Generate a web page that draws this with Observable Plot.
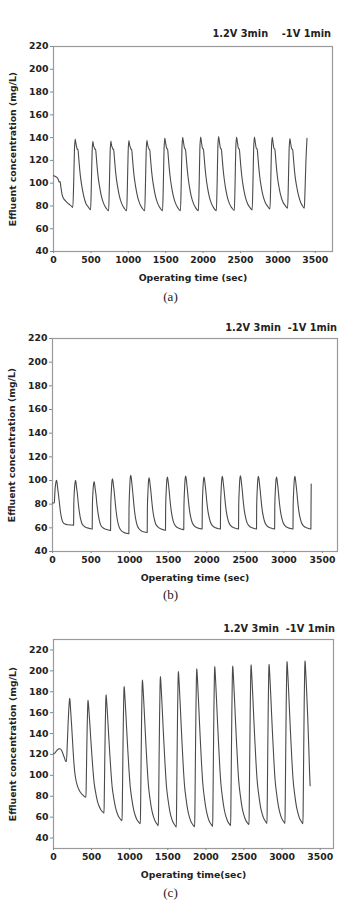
<!DOCTYPE html>
<html><head><meta charset="utf-8">
<script src="https://cdn.jsdelivr.net/npm/d3@7"></script>
<script src="https://cdn.jsdelivr.net/npm/@observablehq/plot@0.6"></script>
<style>
body{margin:0;background:#fff;}
#page{position:relative;width:341px;height:902px;overflow:hidden;font-family:"DejaVu Sans",sans-serif;background:#fff;}
.title{position:absolute;font-weight:bold;font-size:9.8px;line-height:11px;color:#222;white-space:pre;}
.cap{position:absolute;left:0;width:341px;text-align:center;font-family:"Liberation Serif",serif;font-size:13px;line-height:14px;color:#222;}
.panel{position:absolute;left:0;}
</style></head><body><div id="page"></div>
<script>
const yTicks = [40, 60, 80, 100, 120, 140, 160, 180, 200, 220];
const xTicks = [0, 500, 1000, 1500, 2000, 2500, 3000, 3500];
const yLabel = "Effluent concentration (mg/L)";
const titles = ["1.2V 3min    -1V 1min", "1.2V 3min  -1V 1min", "1.2V 3min  -1V 1min"];
const xLabels = ["Operating time (sec)", "Operating time (sec)", "Operating time(sec)"];
const captions = ["(a)", "(b)", "(c)"];

// panel (a): [time s, concentration mg/L]
const seriesA = [
[0,106.5],[20,106],[45,105],[65,103],[76,101],[88,101.5],[100,96],[115,90],[135,86.5],[160,84.5],[190,82.5],[220,81],[245,79.5],[258,78.6],[270,101],[280,129],
[290,138.8],[300,134.8],[312,131],[320,129.6],[327,129.8],[334,125],[345,116],[360,106],[380,97],[405,88.5],[435,82],[465,79.1],[496,76.6],[506,98.6],[516,126.8],
[526,136.8],[536,132.8],[548,131],[556,129.6],[563,129.8],[570,125],[581,116],[596,106],[616,97],[641,88.5],[671,82],[701,78.3],[737,75.8],[747,97.8],[757,127],
[767,137],[777,133],[789,131],[797,129.6],[804,129.8],[811,125],[822,116],[837,106],[857,97],[882,88.5],[912,82],[942,78.3],[978,75.8],[988,97.8],[998,127.4],
[1008,137.4],[1018,133.4],[1030,131],[1038,129.6],[1045,129.8],[1052,125],[1063,116],[1078,106],[1098,97],[1123,88.5],[1153,82],[1183,78.3],[1219,75.8],[1229,97.8],[1239,127.7],
[1249,137.7],[1259,133.7],[1271,131],[1279,129.6],[1286,129.8],[1293,125],[1304,116],[1319,106],[1339,97],[1364,88.5],[1394,82],[1424,78.3],[1458,75.8],[1468,97.8],[1478,129.7],
[1488,139.7],[1498,135.7],[1510,131.5],[1518,130],[1525,130.2],[1532,125.5],[1543,116.5],[1558,106.5],[1578,97],[1603,88.5],[1633,82],[1663,78.3],[1697,75.8],[1707,97.8],[1717,130.3],
[1727,140.3],[1737,136.3],[1749,131.5],[1757,130],[1764,130.2],[1771,125.5],[1782,116.5],[1797,106.5],[1817,97],[1842,88.5],[1872,82],[1902,78.3],[1937,75.8],[1947,97.8],[1957,130.6],
[1967,140.6],[1977,136.6],[1989,131.5],[1997,130],[2004,130.2],[2011,125.5],[2022,116.5],[2037,106.5],[2057,97],[2082,88.5],[2112,82],[2142,78.3],[2177,75.8],[2187,97.8],[2197,130.9],
[2207,140.9],[2217,136.9],[2229,131.5],[2237,130],[2244,130.2],[2251,125.5],[2262,116.5],[2277,106.5],[2297,97],[2322,88.5],[2352,82],[2382,78.5],[2417,76],[2427,98],[2437,130.6],
[2447,140.6],[2457,136.6],[2469,131.5],[2477,130],[2484,130.2],[2491,125.5],[2502,116.5],[2517,106.5],[2537,97],[2562,88.7],[2592,82.3],[2622,79],[2656,76.5],[2666,98.5],[2676,130.6],
[2686,140.6],[2696,136.6],[2708,131.5],[2716,130],[2723,130.2],[2730,125.5],[2741,116.5],[2756,106.5],[2776,97.2],[2801,89],[2831,83],[2861,79.8],[2894,77.3],[2904,99.3],[2914,130.3],
[2924,140.3],[2934,136.3],[2944,131.5],[2952,130],[2959,130.2],[2966,125.5],[2977,116.5],[2992,106.5],[3012,97.5],[3037,89.5],[3067,83.5],[3097,80.5],[3130,78],[3140,100],[3150,129.2],
[3160,139.2],[3170,135.2],[3182,131],[3190,129.6],[3197,129.8],[3204,125],[3215,116],[3230,106],[3250,97.5],[3275,89.5],[3305,83],[3330,80],[3353,78],[3362,92],[3374,118],[3389,139.5]
];

// panel (b)
const seriesB = [
[0,81],[24,81.2],[27,85],[34,93],[44,98.5],[52,100.1],[58,98.6],[66,94],[76,89],[88,82],[102,74],[118,68],[137,64.5],[162,63.2],[200,62.6],[240,62.4],[274,62.3],
[276,79],[284,92],[292,98.1],[298,100.1],
[304,98.6],[312,94],[322,89],[334,81],[348,73.5],[364,67.5],[383,63.5],[408,61.5],[448,60],[488,59.3],[515,59],
[517,78],[525,91],[533,97.2],[539,99.2],
[545,97.7],[553,93.2],[563,88.5],[575,80.5],[589,73],[605,67],[624,62.5],[649,60.3],[689,58.8],[729,58.1],[753,57.8],
[755,77],[763,91],[771,99.5],[777,101.5],
[783,100],[791,95.5],[801,90],[813,81.5],[827,73],[843,66],[862,61],[887,58],[927,56],[967,55.3],[990,55],
[992,76],[1000,92],[1008,102.3],[1014,104.3],
[1020,102.8],[1028,98.3],[1038,92],[1050,83],[1064,74],[1080,67],[1099,62],[1124,59],[1164,57],[1204,56.3],[1228,56],
[1230,76],[1238,91],[1246,100.3],[1252,102.3],
[1258,100.8],[1266,96.3],[1276,90.5],[1288,82],[1302,74],[1318,68],[1337,63.5],[1362,61],[1402,59.2],[1442,58.3],[1465,58],
[1467,77],[1475,92],[1483,100.9],[1489,102.9],
[1495,101.4],[1503,96.9],[1513,91],[1525,82.5],[1539,74.5],[1555,68.5],[1574,64],[1599,61.3],[1639,59.6],[1679,58.8],[1702,58.5],
[1704,77.5],[1712,92.5],[1720,101.7],[1726,103.7],
[1732,102.2],[1740,97.7],[1750,91.5],[1762,83],[1776,75],[1792,69],[1811,64.5],[1836,61.8],[1876,60],[1916,59.3],[1940,59],
[1942,78],[1950,92.5],[1958,100.9],[1964,102.9],
[1970,101.4],[1978,96.9],[1988,91],[2000,82.5],[2014,74.8],[2030,69],[2049,64.5],[2074,61.8],[2114,60],[2154,59.3],[2177,59],
[2179,78],[2187,92.5],[2195,101.5],[2201,103.5],
[2207,102],[2215,97.5],[2225,91.5],[2237,83],[2251,75],[2267,69],[2286,64.5],[2311,61.8],[2351,60],[2391,59.3],[2412,59],
[2414,78],[2422,93],[2430,102],[2436,104],
[2442,102.5],[2450,98],[2460,91.8],[2472,83.2],[2486,75.2],[2502,69.2],[2521,64.6],[2546,61.8],[2586,60],[2626,59.3],[2645,59],
[2647,78],[2655,92.8],[2663,101.5],[2669,103.5],
[2675,102],[2683,97.5],[2693,91.5],[2705,83],[2719,75],[2735,69],[2754,64.5],[2779,61.8],[2819,60],[2859,59.3],[2880,59],
[2882,78],[2890,92.5],[2898,100.9],[2904,102.9],
[2910,101.4],[2918,96.9],[2928,91],[2940,82.5],[2954,74.8],[2970,69],[2989,64.5],[3014,61.8],[3054,60],[3094,59.3],[3118,59],
[3120,78],[3128,92.5],[3136,101.5],[3142,103.5],
[3148,102],[3156,97.5],[3166,91.5],[3178,83],[3192,75],[3208,69],[3227,64.5],[3252,61.8],[3292,60],[3330,59.3],[3350,59],
[3352,78],[3354,97]
];

// panel (c)
const seriesC = [
[0,120.6],[20,121.5],[45,124],[70,125.3],[87,125.4],[105,124],[125,120.5],[145,116.5],[160,113.5],[170,113.2],[180,128],[192,150],[204,167],[210,172.5],[214,173.8],
[218,170.5],[226,161],[236,150],[249,134],[262,118],[276,105],[293,96],[314,90],[336,86],[358,83.3],[380,81.5],[405,79.8],[426,79.2],
[430,93],[436,121],[442,146],[448,164],[452,171],[454,171.8],
[459,168],[466,161],[476,150.2],[489,135.1],[502,121.1],[516,107.1],[533,93],[554,83.3],[577,75.2],[599,70.4],[621,67.1],[644,65.2],[663,63.9],
[667,80.9],[673,114.8],[679,145.3],[685,168],[689,175.9],[691,177],
[696,172.8],[703,164.9],[713,152.9],[726,136],[739,120.4],[753,104.7],[770,89],[791,78.2],[814,69.2],[836,63.7],[858,60.1],[881,57.9],[900,56.5],
[904,75.8],[910,114.3],[916,149],[922,174.7],[926,183.7],[928,185],
[933,180.4],[940,171.9],[950,158.7],[963,140.4],[976,123.3],[990,106.2],[1007,89.2],[1028,77.3],[1051,67.5],[1073,61.6],[1095,57.6],[1118,55.3],[1140,53.7],
[1144,74.3],[1150,115.6],[1156,152.8],[1162,180.3],[1166,189.9],[1168,191.3],
[1173,186.4],[1180,177.3],[1190,163.4],[1203,143.9],[1216,125.7],[1230,107.6],[1247,89.5],[1268,76.9],[1291,66.4],[1313,60.2],[1335,56],[1358,53.5],[1376,51.8],
[1380,73.2],[1386,116],[1392,154.5],[1398,183.1],[1402,193.1],[1404,194.5],
[1409,189.5],[1416,180.1],[1426,165.7],[1439,145.5],[1452,126.8],[1466,108.1],[1483,89.4],[1504,76.4],[1527,65.6],[1549,59.1],[1571,54.8],[1594,52.2],[1612,50.5],
[1616,72.8],[1622,117.5],[1628,157.6],[1634,187.4],[1638,197.8],[1640,199.3],
[1645,194.1],[1652,184.4],[1662,169.6],[1675,148.8],[1688,129.5],[1702,110.2],[1719,90.9],[1740,77.5],[1763,66.4],[1785,59.7],[1807,55.3],[1830,52.6],[1853,50.8],
[1857,73.5],[1863,118.8],[1869,159.6],[1875,189.8],[1879,200.4],[1881,201.9],
[1886,196.6],[1893,186.8],[1903,171.7],[1916,150.6],[1929,131],[1943,111.4],[1960,91.8],[1981,78.2],[2004,66.9],[2026,60.1],[2048,55.6],[2071,52.9],[2089,51.1],
[2093,74],[2099,119.9],[2105,161.2],[2111,191.8],[2115,202.5],[2117,204],
[2122,198.7],[2129,188.8],[2139,173.6],[2152,152.3],[2165,132.5],[2179,112.7],[2196,92.9],[2217,79.2],[2240,67.8],[2262,60.9],[2284,56.4],[2307,53.6],[2325,51.8],
[2329,74.7],[2335,120.6],[2341,161.9],[2347,192.5],[2351,203.2],[2353,204.7],
[2358,199.4],[2365,189.5],[2375,174.4],[2388,153.1],[2401,133.4],[2415,113.7],[2432,94],[2453,80.3],[2476,68.9],[2498,62.1],[2520,57.6],[2543,54.8],[2566,53],
[2570,75.9],[2576,121.7],[2582,162.9],[2588,193.5],[2592,204.2],[2594,205.7],
[2599,200.4],[2606,190.5],[2616,175.4],[2629,154.1],[2642,134.4],[2656,114.7],[2673,95],[2694,81.3],[2717,69.9],[2739,63.1],[2761,58.6],[2784,55.8],[2802,54],
[2806,76.8],[2812,122.5],[2818,163.4],[2824,194.1],[2828,204.8],[2830,206.3],
[2835,201],[2842,191.1],[2852,175.8],[2865,154.5],[2878,134.7],[2892,114.9],[2909,95.1],[2930,81.4],[2953,70],[2975,63.2],[2997,58.6],[3020,55.8],[3038,54],
[3042,77.2],[3048,123.7],[3054,165.5],[3060,196.4],[3064,207.3],[3066,208.8],
[3071,203.4],[3078,193.3],[3088,177.8],[3101,156.1],[3114,135.9],[3128,115.7],[3145,95.6],[3166,81.6],[3189,70],[3211,63.1],[3233,58.3],[3256,55.6],[3274,53.7],
[3278,77.1],[3284,123.8],[3290,166],[3296,197],[3300,208],[3302,209.5],
[3307,204],[3314,194],[3324,178],[3337,155],[3350,128],[3360,105],[3368,90]
];

const page = document.getElementById("page");

function addText(cls, text, style) {
  const d = document.createElement("div");
  d.className = cls;
  d.textContent = text;
  Object.assign(d.style, style);
  page.appendChild(d);
}

function makePanel(i, data, cfg) {
  const chart = Plot.plot({
    width: 341, height: cfg.h,
    marginTop: cfg.mt, marginBottom: cfg.mb, marginLeft: cfg.ml, marginRight: cfg.mr,
    style: {fontFamily: "DejaVu Sans", fontSize: "9px", fontWeight: "bold", color: "#222", overflow: "visible", background: "transparent"},
    x: {domain: [0, cfg.xMax]},
    y: {domain: cfg.yDomain},
    marks: [
      Plot.frame({stroke: "#9a9a9a", strokeWidth: 1.2}),
      Plot.axisY({ticks: yTicks, tickSize: 3, tickPadding: 2, stroke: "#888", tickFormat: d => String(d),
        label: yLabel, labelAnchor: "center", labelOffset: 44, labelArrow: "none", fontSize: 9.3}),
      Plot.axisX({ticks: xTicks, tickSize: 2, tickPadding: 3, stroke: "#888", tickFormat: d => String(d),
        label: xLabels[i], labelAnchor: "center", labelOffset: 29, labelArrow: "none", fontSize: 9.3}),
      Plot.line(data, {x: d => d[0], y: d => d[1], stroke: "#4a4a4a", strokeWidth: 1.1, curve: "monotone-x"})
    ]
  });
  const wrap = document.createElement("div");
  wrap.className = "panel";
  wrap.style.top = cfg.top + "px";
  wrap.appendChild(chart);
  page.appendChild(wrap);
  addText("title", titles[i], {top: cfg.titleTop + "px", right: cfg.titleRight + "px"});
  addText("cap", captions[i], {top: cfg.capTop + "px"});
}

makePanel(0, seriesA, {top: 38, h: 249, mt: 8, mb: 36, ml: 53, mr: 9, xMax: 3730, yDomain: [40, 220], titleTop: 27.5, titleRight: 10, capTop: 290});
makePanel(1, seriesB, {top: 332, h: 255, mt: 6, mb: 36, ml: 52, mr: 4, xMax: 3695, yDomain: [40, 220], titleTop: 322, titleRight: 4, capTop: 588});
makePanel(2, seriesC, {top: 633, h: 251, mt: 6, mb: 36, ml: 53, mr: 8, xMax: 3675, yDomain: [30, 230], titleTop: 622.5, titleRight: 6, capTop: 886});
</script>
</body></html>
